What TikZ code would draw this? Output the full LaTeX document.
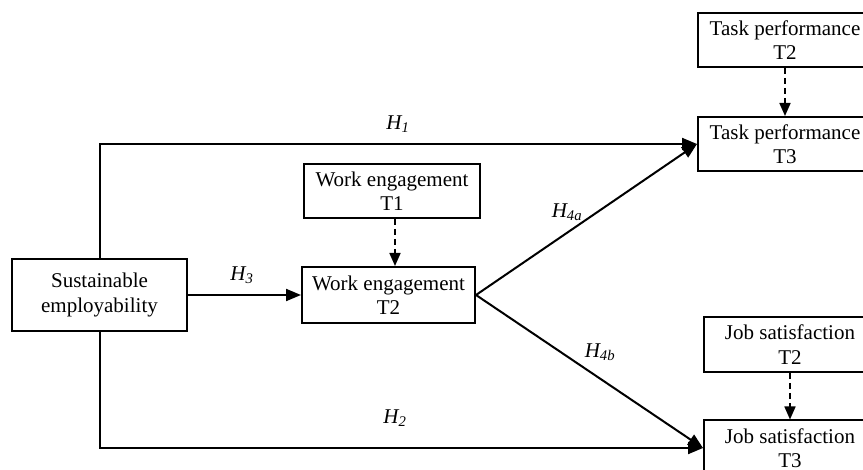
\documentclass[tikz,border=0pt]{standalone}
\usepackage{fontspec}
\setmainfont{Liberation Serif}
\usetikzlibrary{arrows.meta}
\tikzset{
  x=1pt,y=-1pt,
  box/.style={draw,line width=2pt,align=center,inner sep=0pt,font=\fontsize{21}{24.5}\selectfont},
  conn/.style={line width=2pt,-{Triangle[length=15pt,width=12pt]}},
  dconn/.style={line width=1.7pt,dash pattern=on 6pt off 4pt,-{Triangle[length=13pt,width=11pt]}},
  hlab/.style={font=\fontsize{21}{24}\selectfont\itshape,inner sep=0pt}
}
\begin{document}
\begin{tikzpicture}
\useasboundingbox (0,0) rectangle (863,470);
\clip (0,0) rectangle (863,470);
\node[box,minimum width=175pt,minimum height=72pt] (se) at (99.5,295) {Sustainable\\employability};
\node[box,minimum width=176pt,minimum height=54pt] (we1) at (392,191) {Work engagement\\T1};
\node[box,minimum width=173pt,minimum height=56pt] (we2) at (388.5,295) {Work engagement\\T2};
\node[box,minimum width=174pt,minimum height=54pt] (tp2) at (785,40) {Task performance\\T2};
\node[box,minimum width=174pt,minimum height=54pt] (tp3) at (785,144) {Task performance\\T3};
\node[box,minimum width=172pt,minimum height=55pt] (js2) at (790,344.5) {Job satisfaction\\T2};
\node[box,minimum width=172pt,minimum height=55pt] (js3) at (790,448) {Job satisfaction\\T3};
\coordinate (dx) at (395,0);
\draw[dconn] (we1.south -| dx) -- (we2.north -| dx);
\draw[dconn] (tp2.south) -- (tp3.north);
\draw[dconn] (js2.south) -- (js3.north);
\draw[conn] (se.north) |- (tp3.west);
\draw[conn] (se.south) |- (js3.west);
\draw[conn] (se.east) -- (we2.west);
\draw[conn] (we2.east) -- (tp3.west);
\draw[conn] (we2.east) -- (js3.west);
\node[hlab] (h1) at (398,124) {H\textsubscript{1}};
\node[hlab] (h2) at (395,418) {H\textsubscript{2}};
\node[hlab] (h3) at (242,275) {H\textsubscript{3}};
\node[hlab] (h4a) at (567,212) {H\textsubscript{4a}};
\node[hlab] (h4b) at (600,352) {H\textsubscript{4b}};
\end{tikzpicture}
\end{document}
